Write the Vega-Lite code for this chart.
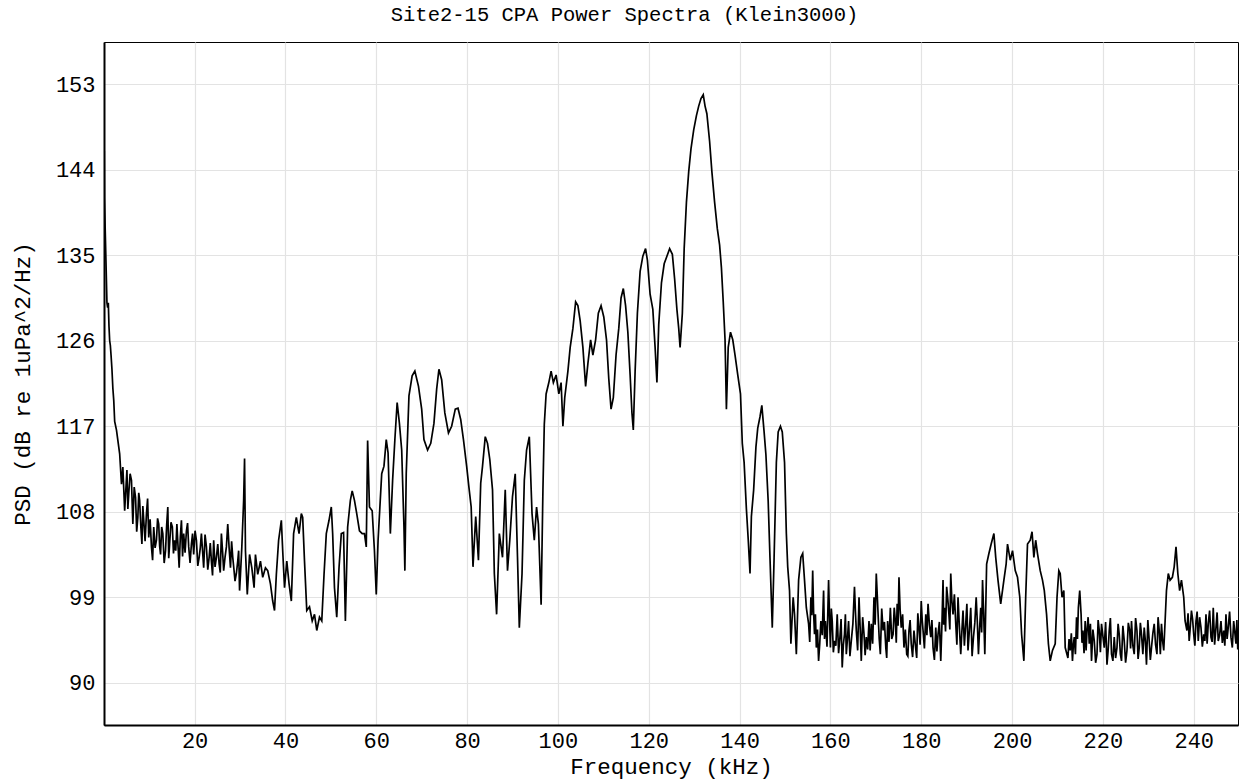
{
  "$schema": "https://vega.github.io/schema/vega-lite/v6.json",
  "width": 1134,
  "height": 683,
  "autosize": {"type": "none"},
  "padding": {"left": 104, "top": 42, "right": 3, "bottom": 56},
  "background": "white",
  "title": {"text": "Site2-15 CPA Power Spectra (Klein3000)", "font": "Liberation Mono", "fontSize": 20.5, "fontWeight": "normal", "color": "#000", "anchor": "middle", "frame": "bounds", "offset": 17},
  "config": {
    "view": {"stroke": "#000", "strokeWidth": 1},
    "axis": {"domainColor": "#000", "domainWidth": 2, "gridColor": "#e3e3e3", "gridWidth": 1.2, "ticks": false, "labelFont": "Liberation Mono", "labelFontSize": 22, "labelColor": "#000", "titleFont": "Liberation Mono", "titleFontSize": 22.5, "titleFontWeight": "normal", "titleColor": "#000"}
  },
  "data": {"values": [
    {"f":0.05,"p":138},{"f":0.1,"p":146},{"f":0.15,"p":141},{"f":0.25,"p":139},{"f":0.35,"p":137},{"f":0.45,"p":135},{"f":0.55,"p":133},{"f":0.7,"p":130},{"f":0.85,"p":129.5},{"f":1.0,"p":130},{"f":1.15,"p":127.5},{"f":1.3,"p":126},{"f":1.45,"p":125.5},{"f":1.6,"p":124.5},{"f":1.8,"p":123},{"f":2.0,"p":121},{"f":2.2,"p":119.7},{"f":2.4,"p":117.5},
    {"f":2.8,"p":116.6},{"f":3.5,"p":114.1},{"f":3.9,"p":110.9},{"f":4.2,"p":112.7},{"f":4.6,"p":108.1},{"f":5.1,"p":112.4},{"f":5.3,"p":108.3},{"f":5.5,"p":109.9},{"f":5.8,"p":112.0},{"f":6.1,"p":111.3},{"f":6.25,"p":109.0},{"f":6.4,"p":106.7},{"f":6.7,"p":110.6},{"f":7.0,"p":109.5},{"f":7.25,"p":105.9},{"f":7.5,"p":107.4},{"f":7.7,"p":110.0},{"f":7.9,"p":109.2},{"f":8.15,"p":106.5},{"f":8.4,"p":104.6},{"f":8.6,"p":108.6},{"f":8.8,"p":107.1},{"f":9.1,"p":104.9},{"f":9.4,"p":107.8},{"f":9.65,"p":109.4},{"f":9.9,"p":105.3},{"f":10.2,"p":107.2},{"f":10.5,"p":104.3},{"f":10.75,"p":102.9},{"f":11.0,"p":106.4},{"f":11.3,"p":104.2},{"f":11.6,"p":105},{"f":11.85,"p":107.3},{"f":12.1,"p":106.7},{"f":12.3,"p":104.4},{"f":12.5,"p":103.5},{"f":12.75,"p":106.4},{"f":13.0,"p":105.7},{"f":13.3,"p":102.6},{"f":13.6,"p":103.9},{"f":13.85,"p":106.6},{"f":14.1,"p":108.5},{"f":14.3,"p":103.1},{"f":14.5,"p":104.6},{"f":14.8,"p":106.9},{"f":15.1,"p":106.4},{"f":15.35,"p":103.6},{"f":15.6,"p":105},{"f":15.85,"p":103.9},{"f":16.1,"p":106.7},{"f":16.35,"p":104.4},{"f":16.6,"p":102.1},{"f":16.85,"p":105.3},{"f":17.1,"p":107.1},{"f":17.35,"p":103.3},{"f":17.6,"p":105.7},{"f":17.9,"p":103.7},{"f":18.2,"p":106},{"f":18.45,"p":106.8},{"f":18.7,"p":104.3},{"f":19.0,"p":102.6},{"f":19.3,"p":104.6},{"f":19.55,"p":105.7},{"f":19.8,"p":103.5},{"f":20.1,"p":106.0},{"f":20.4,"p":105},{"f":20.7,"p":102.3},{"f":21.0,"p":103.2},{"f":21.25,"p":104.2},{"f":21.5,"p":105.7},{"f":21.75,"p":103.9},{"f":22.0,"p":102.1},{"f":22.3,"p":105.6},{"f":22.6,"p":104.3},{"f":22.9,"p":101.9},{"f":23.2,"p":103.2},{"f":23.45,"p":104.7},{"f":23.7,"p":102.8},{"f":23.95,"p":101.3},{"f":24.2,"p":105},{"f":24.5,"p":102.2},{"f":24.8,"p":103.2},{"f":25.1,"p":104.6},{"f":25.4,"p":102.5},{"f":25.65,"p":101.6},{"f":25.9,"p":105.7},{"f":26.15,"p":103.9},{"f":26.4,"p":101.8},{"f":26.7,"p":103.2},{"f":27.0,"p":104.3},{"f":27.3,"p":106.7},{"f":27.6,"p":104.2},{"f":27.9,"p":102.1},{"f":28.15,"p":104.9},{"f":28.4,"p":103.2},{"f":28.65,"p":102.0},{"f":28.9,"p":100.7},{"f":29.2,"p":101.5},{"f":29.5,"p":102.8},{"f":29.7,"p":103.9},{"f":29.9,"p":99.7},{"f":30.1,"p":101.4},{"f":30.4,"p":104.3},{"f":30.8,"p":109.2},{"f":31.0,"p":113.6},{"f":31.2,"p":103.9},{"f":31.6,"p":99.3},{"f":32.1,"p":103.5},{"f":32.6,"p":102.1},{"f":33.1,"p":100},{"f":33.4,"p":103.5},{"f":33.9,"p":101.4},{"f":34.5,"p":102.8},{"f":35.0,"p":101.1},{"f":35.6,"p":102.1},{"f":36.1,"p":101.8},{"f":36.7,"p":100.4},{"f":37.2,"p":98.6},{"f":37.6,"p":97.6},{"f":38.0,"p":101.4},{"f":38.5,"p":105},{"f":39.1,"p":107.1},{"f":39.4,"p":103.9},{"f":39.8,"p":100},{"f":40.3,"p":102.8},{"f":40.8,"p":100.4},{"f":41.3,"p":98.6},{"f":41.8,"p":105.7},{"f":42.4,"p":107.4},{"f":43.0,"p":105.7},{"f":43.5,"p":107.8},{"f":43.8,"p":107.4},{"f":44.2,"p":102.8},{"f":44.7,"p":97.6},{"f":45.3,"p":98},{"f":45.9,"p":96.5},{"f":46.4,"p":97.2},{"f":46.9,"p":95.5},{"f":47.5,"p":96.9},{"f":48.0,"p":96.5},{"f":48.5,"p":101.4},{"f":49.0,"p":105.7},{"f":49.6,"p":107.1},{"f":50.1,"p":108.5},{"f":50.4,"p":105.7},{"f":50.8,"p":100},{"f":51.3,"p":96.9},{"f":51.8,"p":102.1},{"f":52.3,"p":105.7},{"f":52.8,"p":105.8},{"f":53.2,"p":96.5},{"f":53.7,"p":106.4},{"f":54.3,"p":109.2},{"f":54.7,"p":110.2},{"f":55.2,"p":109.2},{"f":55.7,"p":107.8},{"f":56.3,"p":106},{"f":56.9,"p":105.7},{"f":57.4,"p":105.7},{"f":57.8,"p":104.3},{"f":58.1,"p":115.5},{"f":58.5,"p":108.5},{"f":59.1,"p":108.1},{"f":59.6,"p":103.9},{"f":60.0,"p":99.3},
    {"f":60.4,"p":105},{"f":61.2,"p":112},{"f":61.7,"p":112.8},{"f":62.2,"p":115.6},{"f":62.6,"p":114.2},{"f":63.1,"p":105.7},{"f":63.6,"p":111.3},{"f":64.1,"p":115.6},{"f":64.6,"p":119.5},{"f":65.1,"p":117.3},{"f":65.6,"p":114.5},{"f":66.1,"p":106.4},{"f":66.3,"p":101.8},{"f":66.6,"p":112},{"f":67.2,"p":120.2},{"f":67.9,"p":122.3},{"f":68.5,"p":122.8},{"f":69.3,"p":121.2},{"f":70.0,"p":118.8},{"f":70.5,"p":115.6},{"f":71.3,"p":114.5},{"f":72.0,"p":115.2},{"f":72.7,"p":117.3},{"f":73.3,"p":120.9},{"f":73.8,"p":123},{"f":74.4,"p":121.9},{"f":75.1,"p":118.4},{"f":75.9,"p":116.3},{"f":76.6,"p":117},{"f":77.4,"p":118.8},{"f":78.0,"p":118.9},{"f":78.6,"p":117.7},{"f":79.2,"p":115.6},{"f":79.9,"p":112.8},{"f":80.4,"p":110.6},{"f":80.9,"p":108.5},{"f":81.3,"p":102.2},{"f":81.9,"p":107.5},{"f":82.5,"p":102.9},{"f":83.0,"p":111},{"f":83.4,"p":112.8},{"f":84.0,"p":115.9},{"f":84.5,"p":115.2},{"f":85.0,"p":113.5},{"f":85.6,"p":110.3},{"f":86.0,"p":101.5},{"f":86.5,"p":97.2},{"f":87.1,"p":105.7},{"f":87.8,"p":103.2},{"f":88.4,"p":110.3},{"f":88.9,"p":101.8},{"f":89.4,"p":105},{"f":90.0,"p":109.6},{"f":90.6,"p":112},{"f":91.1,"p":103.2},{"f":91.5,"p":95.8},{"f":92.1,"p":101.5},{"f":92.6,"p":111.3},{"f":93.1,"p":114.5},{"f":93.7,"p":115.9},{"f":94.3,"p":107.8},{"f":94.8,"p":105},{"f":95.3,"p":108.5},{"f":95.7,"p":106.7},
    {"f":96.3,"p":98.2},{"f":96.7,"p":110.3},{"f":97.0,"p":117.2},{"f":97.4,"p":120.4},{"f":98.0,"p":121.6},{"f":98.5,"p":122.8},{"f":99.0,"p":121.6},{"f":99.6,"p":122.4},{"f":100.2,"p":120.4},{"f":100.7,"p":121.6},{"f":101.1,"p":117},{"f":101.5,"p":120},{"f":102.2,"p":122.8},{"f":102.7,"p":125.3},{"f":103.3,"p":127.3},{"f":103.9,"p":130.1},{"f":104.4,"p":129.7},{"f":104.9,"p":128.1},{"f":105.5,"p":125.3},{"f":106.1,"p":121.2},{"f":106.6,"p":123.6},{"f":107.2,"p":126.1},{"f":107.7,"p":124.5},{"f":108.3,"p":126.1},{"f":108.9,"p":128.9},{"f":109.5,"p":129.7},{"f":110.1,"p":128.5},{"f":110.7,"p":126.1},{"f":111.2,"p":122},{"f":111.7,"p":118.8},{"f":112.2,"p":120},{"f":112.8,"p":124.5},{"f":113.4,"p":127.3},{"f":113.9,"p":130.5},{"f":114.4,"p":131.5},{"f":114.9,"p":129.7},{"f":115.4,"p":126.9},{"f":115.9,"p":122.4},{"f":116.3,"p":118.4},{"f":116.6,"p":116.6},{"f":117.0,"p":122.8},{"f":117.5,"p":128.9},{"f":118.1,"p":133.3},{"f":118.7,"p":134.9},{"f":119.3,"p":135.7},{"f":119.7,"p":134.5},{"f":120.3,"p":130.9},{"f":120.9,"p":129.3},{"f":121.4,"p":125.3},{"f":121.8,"p":121.6},{"f":122.2,"p":127.7},{"f":122.8,"p":132.1},{"f":123.4,"p":134.1},{"f":124.0,"p":134.9},{"f":124.6,"p":135.7},{"f":125.2,"p":135.1},{"f":125.7,"p":132.5},{"f":126.2,"p":129.3},{"f":126.6,"p":127.3},{"f":126.9,"p":125.3},{"f":127.4,"p":128.9},{"f":127.8,"p":135.7},{"f":128.3,"p":140.6},{"f":128.8,"p":143.8},{"f":129.3,"p":146.2},{"f":129.9,"p":148.2},{"f":130.5,"p":149.7},{"f":131.0,"p":150.7},{"f":131.5,"p":151.5},{"f":132.0,"p":151.9},{"f":132.4,"p":150.7},{"f":132.8,"p":149.9},{"f":133.4,"p":147},{"f":133.9,"p":143.8},{"f":134.5,"p":140.6},{"f":135.1,"p":137.8},{"f":135.6,"p":136.1},{"f":136.0,"p":133.7},{"f":136.4,"p":130.1},{"f":136.8,"p":126.1},{"f":137.1,"p":118.8},{"f":137.5,"p":125.3},{"f":138.0,"p":126.9},{"f":138.5,"p":126.1},{"f":139.0,"p":124.5},{"f":139.6,"p":122.4},{"f":140.2,"p":120.4},{"f":140.6,"p":115.2},{"f":141.0,"p":113.2},{"f":141.5,"p":108.3},{"f":141.9,"p":105.1},{"f":142.3,"p":101.5},{"f":142.6,"p":107.5},{"f":143.1,"p":110.3},{"f":143.6,"p":114.8},{"f":144.0,"p":116.8},{"f":144.5,"p":118},{"f":144.9,"p":119.2},{"f":145.4,"p":116.4},{"f":145.8,"p":114},{"f":146.3,"p":109.1},{"f":146.7,"p":103.1},{"f":147.2,"p":95.8},{"f":147.6,"p":103.1},{"f":148.1,"p":113.2},{"f":148.5,"p":116.4},{"f":149.0,"p":117},{"f":149.4,"p":116.4},{"f":149.9,"p":113.2},
    {"f":150.3,"p":105.7},{"f":150.6,"p":102.2},{"f":151.0,"p":99.7},{"f":151.3,"p":94.1},{"f":151.8,"p":99},{"f":152.1,"p":97.2},{"f":152.5,"p":93},{"f":153.0,"p":100.8},{"f":153.5,"p":103.2},{"f":153.9,"p":103.6},{"f":154.3,"p":100.8},{"f":154.7,"p":97.9},{"f":155.2,"p":96.2},{"f":155.45,"p":94.3},{"f":155.7,"p":99},{"f":155.9,"p":97.1},{"f":156.1,"p":101.8},{"f":156.3,"p":97.4},{"f":156.5,"p":95.1},{"f":156.7,"p":97.2},{"f":156.9,"p":93.7},{"f":157.15,"p":95.6},{"f":157.4,"p":92.3},{"f":157.65,"p":94.1},{"f":157.9,"p":96.5},{"f":158.2,"p":95.0},{"f":158.5,"p":99.7},{"f":158.7,"p":94.6},{"f":158.9,"p":96.5},{"f":159.25,"p":93.8},{"f":159.6,"p":100.8},{"f":159.8,"p":96.9},{"f":160.0,"p":93.7},{"f":160.2,"p":97.8},{"f":160.4,"p":96.5},{"f":160.65,"p":93.2},{"f":160.9,"p":94.4},{"f":161.2,"p":93.9},{"f":161.5,"p":97.2},{"f":161.8,"p":93.1},{"f":162.1,"p":94.8},{"f":162.35,"p":96.7},{"f":162.6,"p":91.6},{"f":162.85,"p":94.0},{"f":163.1,"p":95.1},{"f":163.3,"p":97.2},{"f":163.5,"p":93},{"f":163.75,"p":94.6},{"f":164.0,"p":96.5},{"f":164.3,"p":92.8},{"f":164.6,"p":94.4},{"f":164.95,"p":96.2},{"f":165.3,"p":100.1},{"f":165.5,"p":97.6},{"f":165.7,"p":95.5},{"f":166.0,"p":93.4},{"f":166.3,"p":99},{"f":166.55,"p":95.8},{"f":166.8,"p":92.3},{"f":167.1,"p":96.9},{"f":167.4,"p":95.1},{"f":167.65,"p":92.9},{"f":167.9,"p":94.8},{"f":168.2,"p":93.5},{"f":168.5,"p":96.5},{"f":168.75,"p":93.4},{"f":169.0,"p":96.2},{"f":169.3,"p":94.1},{"f":169.6,"p":99},{"f":169.85,"p":96.1},{"f":170.1,"p":101.5},{"f":170.3,"p":99.4},{"f":170.5,"p":97.2},{"f":170.75,"p":94.6},{"f":171.0,"p":93},{"f":171.3,"p":97.8},{"f":171.6,"p":95.5},{"f":171.9,"p":96.4},{"f":172.2,"p":93.7},{"f":172.4,"p":92.6},{"f":172.6,"p":96.5},{"f":172.9,"p":94.3},{"f":173.2,"p":97.9},{"f":173.5,"p":94.6},{"f":173.8,"p":95.1},{"f":174.05,"p":97.9},{"f":174.3,"p":96.5},{"f":174.5,"p":94.2},{"f":174.7,"p":98.3},{"f":174.9,"p":96.0},{"f":175.1,"p":101.1},{"f":175.35,"p":97.7},{"f":175.6,"p":95.8},{"f":175.9,"p":97.2},{"f":176.2,"p":93.7},{"f":176.5,"p":95.6},{"f":176.8,"p":93},{"f":177.05,"p":92.8},{"f":177.3,"p":95.5},{"f":177.55,"p":96.6},{"f":177.8,"p":94.1},{"f":178.1,"p":92.7},{"f":178.4,"p":95.5},{"f":178.7,"p":94.0},{"f":179.0,"p":92.6},{"f":179.25,"p":97.3},{"f":179.5,"p":95.8},{"f":179.75,"p":94.0},{"f":180.0,"p":98.6},{"f":180.2,"p":96.7},{"f":180.4,"p":95.5},{"f":180.7,"p":93.6},{"f":181.0,"p":97.2},{"f":181.25,"p":95.0},{"f":181.5,"p":98.3},{"f":181.8,"p":96.1},{"f":182.1,"p":94.8},{"f":182.35,"p":96.6},{"f":182.6,"p":93.7},{"f":182.9,"p":92.4},{"f":183.2,"p":95.8},{"f":183.45,"p":93.3},{"f":183.7,"p":95.1},{"f":184.0,"p":96.4},{"f":184.3,"p":92.3},{"f":184.55,"p":96.0},{"f":184.8,"p":100.8},{"f":184.95,"p":96.1},{"f":185.1,"p":97.9},{"f":185.35,"p":95.4},{"f":185.6,"p":100.1},{"f":185.85,"p":98.8},{"f":186.1,"p":97.2},{"f":186.3,"p":95.6},{"f":186.5,"p":101.5},{"f":186.75,"p":98.6},{"f":187.0,"p":97.2},{"f":187.3,"p":99.3},{"f":187.6,"p":96.2},{"f":187.85,"p":94.0},{"f":188.1,"p":99},{"f":188.4,"p":95.9},{"f":188.7,"p":93},{"f":188.95,"p":95.4},{"f":189.2,"p":97.6},{"f":189.5,"p":93.9},{"f":189.8,"p":96.2},{"f":190.05,"p":98.3},{"f":190.3,"p":93.4},{"f":190.6,"p":95.5},{"f":190.9,"p":97.9},{"f":191.2,"p":92.8},{"f":191.5,"p":94.8},{"f":191.8,"p":96.3},{"f":192.1,"p":99},{"f":192.35,"p":96.4},{"f":192.6,"p":93},{"f":192.85,"p":95.7},{"f":193.1,"p":97.9},{"f":193.3,"p":95.3},{"f":193.5,"p":100.8},{"f":193.75,"p":97.3},{"f":194.0,"p":93},{"f":194.4,"p":102.5},{"f":194.9,"p":103.6},{"f":195.4,"p":104.6},{"f":196.0,"p":105.7},{"f":196.4,"p":103.2},{"f":196.9,"p":100.8},{"f":197.5,"p":98.3},
    {"f":198.2,"p":100.8},{"f":198.7,"p":102.5},{"f":199.0,"p":104.6},{"f":199.6,"p":102.9},{"f":200.1,"p":103.9},{"f":200.7,"p":101.8},{"f":201.2,"p":101.1},{"f":201.7,"p":99},{"f":202.1,"p":95.1},{"f":202.6,"p":92.3},{"f":203.0,"p":99},{"f":203.4,"p":104.6},{"f":204.0,"p":105},{"f":204.4,"p":105.9},{"f":204.8,"p":103.2},{"f":205.2,"p":105},{"f":205.6,"p":103.6},{"f":206.2,"p":101.8},{"f":206.7,"p":100.8},{"f":207.1,"p":99.7},{"f":207.6,"p":97.2},{"f":208.0,"p":94.1},{"f":208.4,"p":92.3},{"f":208.9,"p":93.4},{"f":209.5,"p":94.1},{"f":209.9,"p":99},{"f":210.3,"p":101.8},{"f":210.6,"p":101.5},{"f":211.0,"p":99},{"f":211.4,"p":99.7},{"f":211.7,"p":93.7},{"f":212.3,"p":92.6},{"f":212.55,"p":94.6},{"f":212.8,"p":93.4},{"f":213.05,"p":95.2},{"f":213.3,"p":92.3},{"f":213.5,"p":94.0},{"f":213.7,"p":94.8},{"f":213.95,"p":93.0},{"f":214.2,"p":96.9},{"f":214.4,"p":94.6},{"f":214.6,"p":97.9},{"f":214.9,"p":99.7},{"f":215.2,"p":97.2},{"f":215.4,"p":94.2},{"f":215.6,"p":95.5},{"f":215.85,"p":93.1},{"f":216.1,"p":96.5},{"f":216.3,"p":93.4},{"f":216.5,"p":95.5},{"f":216.75,"p":96.9},{"f":217.0,"p":94.1},{"f":217.25,"p":96.2},{"f":217.5,"p":92.3},{"f":217.8,"p":95.6},{"f":218.1,"p":94.4},{"f":218.4,"p":92.1},{"f":218.7,"p":93},{"f":218.95,"p":96.6},{"f":219.2,"p":95.5},{"f":219.45,"p":93.2},{"f":219.7,"p":96.2},{"f":220.0,"p":94.9},{"f":220.3,"p":93.7},{"f":220.6,"p":96.4},{"f":220.9,"p":91.9},{"f":221.15,"p":93.4},{"f":221.4,"p":95.5},{"f":221.65,"p":96.8},{"f":221.9,"p":93},{"f":222.2,"p":92.3},{"f":222.5,"p":94.8},{"f":222.8,"p":92.6},{"f":223.1,"p":93.7},{"f":223.35,"p":96.2},{"f":223.6,"p":95.1},{"f":223.85,"p":93.0},{"f":224.1,"p":92.3},{"f":224.4,"p":96.0},{"f":224.7,"p":94.4},{"f":225.0,"p":92.1},{"f":225.3,"p":93.4},{"f":225.6,"p":96.3},{"f":225.9,"p":95.5},{"f":226.1,"p":93.6},{"f":226.3,"p":96.5},{"f":226.6,"p":93.9},{"f":226.9,"p":93},{"f":227.2,"p":96.8},{"f":227.5,"p":95.5},{"f":227.75,"p":92.5},{"f":228.0,"p":93.7},{"f":228.25,"p":96.3},{"f":228.5,"p":95.1},{"f":228.8,"p":93.0},{"f":229.1,"p":95.8},{"f":229.35,"p":94.4},{"f":229.6,"p":91.9},{"f":229.9,"p":96.6},{"f":230.2,"p":94.4},{"f":230.45,"p":92.4},{"f":230.7,"p":93.7},{"f":231.0,"p":95.2},{"f":231.3,"p":96.2},{"f":231.6,"p":94.0},{"f":231.9,"p":93},{"f":232.15,"p":96.9},{"f":232.4,"p":95.5},{"f":232.65,"p":93.0},{"f":232.9,"p":96.2},{"f":233.15,"p":94.4},{"f":233.4,"p":93.4},{"f":233.7,"p":96.5},{"f":234.0,"p":99.7},{"f":234.4,"p":101.5},{"f":234.8,"p":100.8},{"f":235.3,"p":101.1},{"f":235.7,"p":102.2},{"f":236.1,"p":104.3},{"f":236.5,"p":101.5},{"f":236.9,"p":99.7},{"f":237.3,"p":100.8},{"f":237.8,"p":99},{"f":238.1,"p":96.5},{"f":238.5,"p":95.5},{"f":238.75,"p":97.3},{"f":239.0,"p":94.4},{"f":239.25,"p":95.9},{"f":239.5,"p":97.6},{"f":239.75,"p":96.7},{"f":240.0,"p":95.1},{"f":240.25,"p":93.9},{"f":240.5,"p":96.5},{"f":240.75,"p":97.5},{"f":241.0,"p":94.4},{"f":241.3,"p":96.9},{"f":241.6,"p":95.8},{"f":241.9,"p":93.8},{"f":242.2,"p":95.1},{"f":242.45,"p":94.4},{"f":242.7,"p":97.2},{"f":242.95,"p":94.1},{"f":243.2,"p":96.2},{"f":243.5,"p":97.6},{"f":243.8,"p":94.8},{"f":244.05,"p":94.3},{"f":244.3,"p":97.9},{"f":244.6,"p":94.0},{"f":244.9,"p":95.8},{"f":245.15,"p":97.4},{"f":245.4,"p":94.4},{"f":245.7,"p":95.0},{"f":246.0,"p":96.5},{"f":246.3,"p":94.2},{"f":246.6,"p":95.5},{"f":246.85,"p":93.9},{"f":247.1,"p":97.2},{"f":247.35,"p":94.6},{"f":247.6,"p":95.8},{"f":247.9,"p":97.5},{"f":248.2,"p":94.8},{"f":248.5,"p":93.7},{"f":248.8,"p":96.5},{"f":249.05,"p":95.3},{"f":249.3,"p":94.1},{"f":249.5,"p":96.6},{"f":249.7,"p":93.5}
  ]},
  "mark": {"type": "line", "color": "#000", "strokeWidth": 1.7, "clip": true},
  "encoding": {
    "x": {"field": "f", "type": "quantitative", "scale": {"domain": [0.05, 249.75], "nice": false, "zero": false},
      "axis": {"values": [20, 40, 60, 80, 100, 120, 140, 160, 180, 200, 220, 240], "title": "Frequency (kHz)", "labelPadding": 5, "titleBaseline": "alphabetic", "titleY": 48}},
    "y": {"field": "p", "type": "quantitative", "scale": {"domain": [85.55, 157.45], "nice": false, "zero": false},
      "axis": {"values": [90, 99, 108, 117, 126, 135, 144, 153], "title": "PSD (dB re 1uPa^2/Hz)", "labelPadding": 9, "titleX": -82, "titleBaseline": "middle"}}
  }
}
